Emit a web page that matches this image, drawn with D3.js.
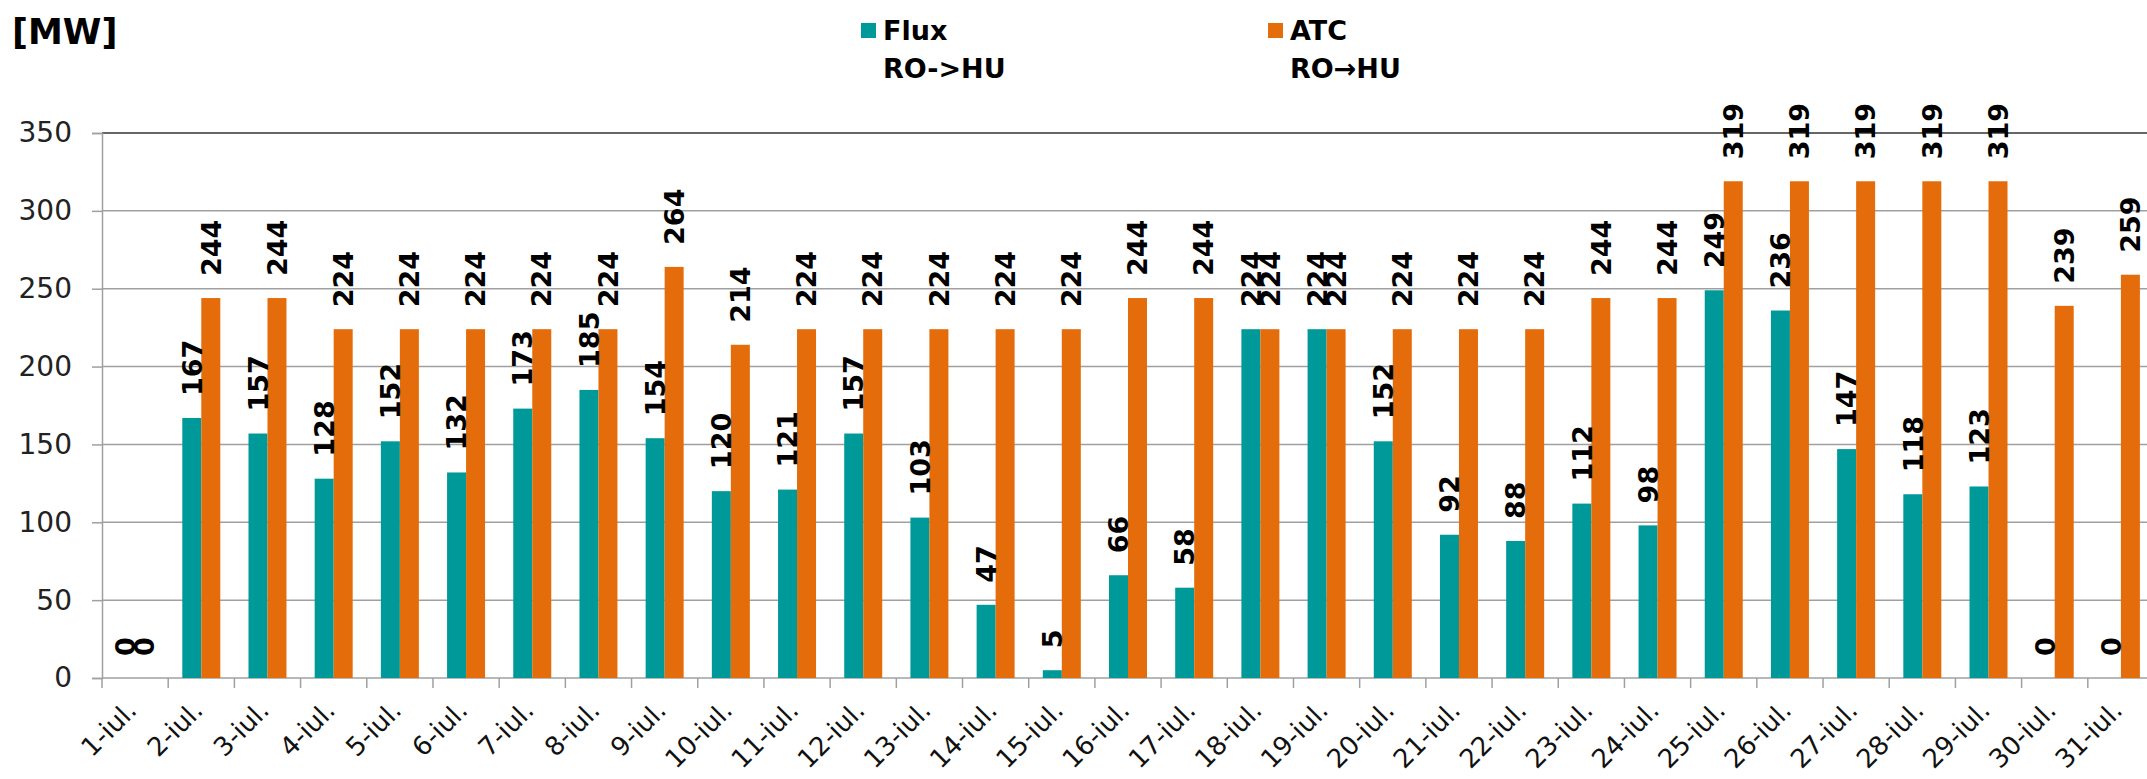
<!DOCTYPE html>
<html>
<head>
<meta charset="utf-8">
<script src="https://cdn.jsdelivr.net/npm/d3@7"></script>
<style>
  body { margin: 0; background: #fff; }
  text { font-family: "DejaVu Sans", Verdana, sans-serif; }
</style>
</head>
<body>
<div id="chart"></div>
<script>
// Days of July
var days = ["1-iul.", "2-iul.", "3-iul.", "4-iul.", "5-iul.", "6-iul.", "7-iul.", "8-iul.",
  "9-iul.", "10-iul.", "11-iul.", "12-iul.", "13-iul.", "14-iul.", "15-iul.", "16-iul.",
  "17-iul.", "18-iul.", "19-iul.", "20-iul.", "21-iul.", "22-iul.", "23-iul.", "24-iul.",
  "25-iul.", "26-iul.", "27-iul.", "28-iul.", "29-iul.", "30-iul.", "31-iul."]

// Flux RO->HU
var flux = [0, 167, 157, 128, 152, 132, 173, 185, 154, 120, 121, 157, 103, 47, 5, 66,
  58, 224, 224, 152, 92, 88, 112, 98, 249, 236, 147, 118, 123, 0, 0]

// ATC RO->HU
var atc = [0, 244, 244, 224, 224, 224, 224, 224, 264, 214, 224, 224, 224, 224, 224, 244,
  244, 224, 224, 224, 224, 224, 244, 244, 319, 319, 319, 319, 319, 239, 259]

var yTicks = [0, 50, 100, 150, 200, 250, 300, 350]
var seriesNames = ["flux", "atc"]
var legendLabels = [["Flux", "RO->HU"], ["ATC", "RO\u2192HU"]]
var colors = {flux: "#009999", atc: "#E46C0A"}

const W = 2147, H = 779
const margin = {top: 133, left: 102, bottom: 101}
const plotW = 2052, plotH = H - margin.top - margin.bottom

var svg = d3.select("#chart")
  .append("svg")
  .attr("width", W)
  .attr("height", H)

var g = svg.append("g")
  .attr("transform", "translate(" + margin.left + "," + margin.top + ")")

var x = d3.scaleBand().domain(days).range([0, plotW]).padding(0)
var bw = x.bandwidth()
var xSub = d3.scaleBand().domain(seriesNames).range([bw * 0.213, bw * 0.787]).padding(0)
var y = d3.scaleLinear().domain([0, 350]).range([plotH, 0])

// gridlines
g.selectAll(".grid")
  .data(yTicks.filter(function(d) { return d > 0 }))
  .enter().append("line")
  .attr("x1", 0).attr("x2", plotW)
  .attr("y1", function(d) { return y(d) }).attr("y2", function(d) { return y(d) })
  .attr("stroke", function(d) { return d == 350 ? "#333" : "#a0a0a0" })
  .attr("stroke-width", 1.5)

// y axis
var yAxis = g.append("g")
  .call(d3.axisLeft(y).tickValues(yTicks).tickSize(10).tickPadding(20))
yAxis.select(".domain").attr("stroke", "#a0a0a0").attr("stroke-width", 1.5)
yAxis.selectAll(".tick line").attr("stroke", "#a0a0a0").attr("stroke-width", 1.5)
yAxis.selectAll("text")
  .style("font-family", "'DejaVu Sans', Verdana, sans-serif")
  .style("font-size", "28px")
  .attr("fill", "#222")

// x axis line and ticks at category boundaries
g.append("line")
  .attr("x1", 0).attr("x2", plotW)
  .attr("y1", plotH).attr("y2", plotH)
  .attr("stroke", "#a0a0a0").attr("stroke-width", 1.5)
g.selectAll(".xtick")
  .data(days)
  .enter().append("line")
  .attr("x1", function(d) { return x(d) }).attr("x2", function(d) { return x(d) })
  .attr("y1", plotH).attr("y2", plotH + 10)
  .attr("stroke", "#a0a0a0").attr("stroke-width", 1.5)

g.selectAll(".xlabel")
  .data(days)
  .enter().append("text")
  .attr("text-anchor", "end")
  .attr("transform", function(d) {
    return "translate(" + (x(d) + bw / 2 + 3) + "," + (plotH + 34) + ") rotate(-45)"
  })
  .style("font-size", "26px")
  .attr("fill", "#111")
  .text(function(d) { return d })

// bars
var rows = days.map(function(d, i) { return {day: d, flux: flux[i], atc: atc[i]} })

var groups = g.selectAll(".day")
  .data(rows)
  .enter().append("g")
  .attr("transform", function(d) { return "translate(" + x(d.day) + ",0)" })

groups.selectAll("rect")
  .data(function(d) { return seriesNames.map(function(s) { return {key: s, value: d[s]} }) })
  .enter().append("rect")
  .attr("x", function(d) { return xSub(d.key) })
  .attr("width", xSub.bandwidth())
  .attr("y", function(d) { return y(d.value) })
  .attr("height", function(d) { return plotH - y(d.value) })
  .attr("fill", function(d) { return colors[d.key] })

// value labels, rotated
groups.selectAll(".val")
  .data(function(d) { return seriesNames.map(function(s) { return {key: s, value: d[s]} }) })
  .enter().append("text")
  .attr("transform", function(d) {
    return "translate(" + (xSub(d.key) + xSub.bandwidth() / 2) + "," + (y(d.value) - 22) + ") rotate(-90)"
  })
  .attr("dy", "0.36em")
  .style("font-size", "27px")
  .style("font-weight", "bold")
  .attr("fill", "#000")
  .text(function(d) { return d.value })

// unit label
svg.append("text")
  .attr("x", 12).attr("y", 44)
  .style("font-size", "35px")
  .style("font-weight", "bold")
  .attr("fill", "#000")
  .text("[MW]")

// legend
var legendX = [861, 1268]
var legend = svg.selectAll(".legend")
  .data(seriesNames)
  .enter().append("g")
  .attr("transform", function(d, i) { return "translate(" + legendX[i] + ",0)" })

legend.append("rect")
  .attr("x", 0).attr("y", 23)
  .attr("width", 15).attr("height", 15)
  .attr("fill", function(d) { return colors[d] })

legend.each(function(d, i) {
  var t = d3.select(this).append("text")
    .attr("x", 22).attr("y", 40)
    .style("font-size", "27px")
    .style("font-weight", "bold")
    .attr("fill", "#000")
  t.append("tspan").attr("x", 22).text(legendLabels[i][0])
  t.append("tspan").attr("x", 22).attr("dy", 38).text(legendLabels[i][1])
})
</script>
</body>
</html>
